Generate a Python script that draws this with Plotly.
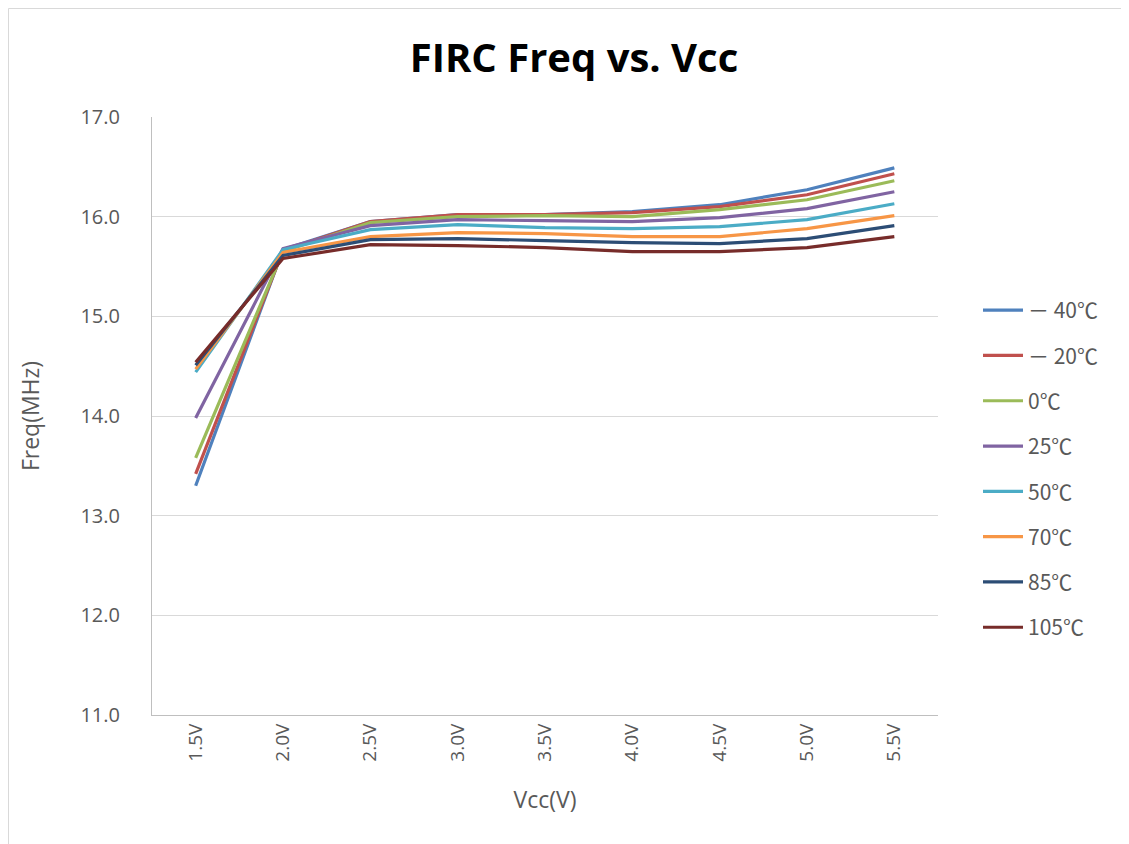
import plotly.graph_objects as go

vcc = ["1.5V", "2.0V", "2.5V", "3.0V", "3.5V", "4.0V", "4.5V", "5.0V", "5.5V"]

temps = ["－ 40℃", "－ 20℃", "0℃", "25℃", "50℃", "70℃", "85℃", "105℃"]

f_m40 = [13.30, 15.67, 15.95, 16.02, 16.02, 16.05, 16.12, 16.27, 16.49]
f_m20 = [13.42, 15.66, 15.95, 16.02, 16.02, 16.04, 16.10, 16.22, 16.43]
f_0   = [13.58, 15.65, 15.94, 16.00, 16.01, 16.00, 16.07, 16.17, 16.36]
f_25  = [13.98, 15.68, 15.91, 15.97, 15.96, 15.95, 15.99, 16.08, 16.25]
f_50  = [14.44, 15.67, 15.87, 15.92, 15.89, 15.88, 15.90, 15.97, 16.13]
f_70  = [14.47, 15.64, 15.80, 15.84, 15.83, 15.80, 15.80, 15.88, 16.01]
f_85  = [14.51, 15.61, 15.77, 15.78, 15.76, 15.74, 15.73, 15.78, 15.91]
f_105 = [14.54, 15.58, 15.72, 15.71, 15.69, 15.65, 15.65, 15.69, 15.80]

series = [f_m40, f_m20, f_0, f_25, f_50, f_70, f_85, f_105]
colors = ["#4F81BD", "#C0504D", "#9BBB59", "#8064A2", "#4BACC6", "#F79646", "#2C4D75", "#772C2A"]

fig = go.Figure()
for name, vals, col in zip(temps, series, colors):
    fig.add_trace(go.Scatter(
        x=vcc, y=vals, name=name, mode="lines",
        line=dict(color=col, width=3.2),
        legendgroup=name,
    ))

# page offset of the figure inside the browser page
OX, OY = 7, 8
W, H = 1129, 844
# desired plot area in page pixels
PL, PR, PT, PB = 151, 937, 117, 715
L, T = PL - OX, PT - OY
R = W - (PR - OX)
B = H - (PB - OY)
pw, ph = W - L - R, H - T - B

def px_x(px):
    return (px - OX - L) / pw

def px_y(py):
    return (H - B - (py - OY)) / ph

font_fam = "Open Sans, Noto Sans CJK SC, sans-serif"
cjk_fam = "Noto Sans CJK SC, Open Sans, sans-serif"

fig.update_layout(
    width=W, height=H,
    margin=dict(l=L, r=R, t=T, b=B, autoexpand=False),
    paper_bgcolor="white", plot_bgcolor="white",
    font=dict(family=font_fam, color="#595959", size=19),
    title=dict(text="<b>FIRC Freq vs. Vcc</b>", x=(573 - OX) / W, xanchor="center",
               y=1 - (58 - OY) / H, yanchor="middle",
               font=dict(size=40, color="black", family=font_fam)),
    showlegend=True,
    legend=dict(x=px_x(977), xanchor="left", y=px_y(290), yanchor="top",
                font=dict(size=21, color="#595959", family=cjk_fam),
                tracegroupgap=15, itemwidth=40, bgcolor="rgba(0,0,0,0)"),
    xaxis=dict(
        type="category", tickangle=-90, showgrid=False, automargin=False,
        range=[-0.5, 8.5],
        showline=True, linecolor="#BFBFBF", linewidth=1,
        ticks="", tickfont=dict(size=19, color="#595959"),
        title=dict(text="Vcc(V)", font=dict(size=23, color="#595959"), standoff=31),
    ),
    yaxis=dict(
        range=[11, 17], dtick=1, tickformat=".1f", automargin=False,
        showgrid=True, gridcolor="#D9D9D9", gridwidth=1,
        showline=True, linecolor="#BFBFBF", linewidth=1,
        zeroline=False, ticks="", ticklabelstandoff=27,
        tickfont=dict(size=20, color="#595959"),
        title=dict(text="Freq(MHz)", font=dict(size=23, color="#595959"), standoff=34),
    ),
)

fig.add_shape(type="rect", xref="paper", yref="paper",
              x0=px_x(7.5), x1=px_x(1126.5), y0=px_y(870), y1=px_y(8.5),
              line=dict(color="#D9D9D9", width=1), fillcolor="rgba(0,0,0,0)", layer="below")

fig.write_html("out.html")
